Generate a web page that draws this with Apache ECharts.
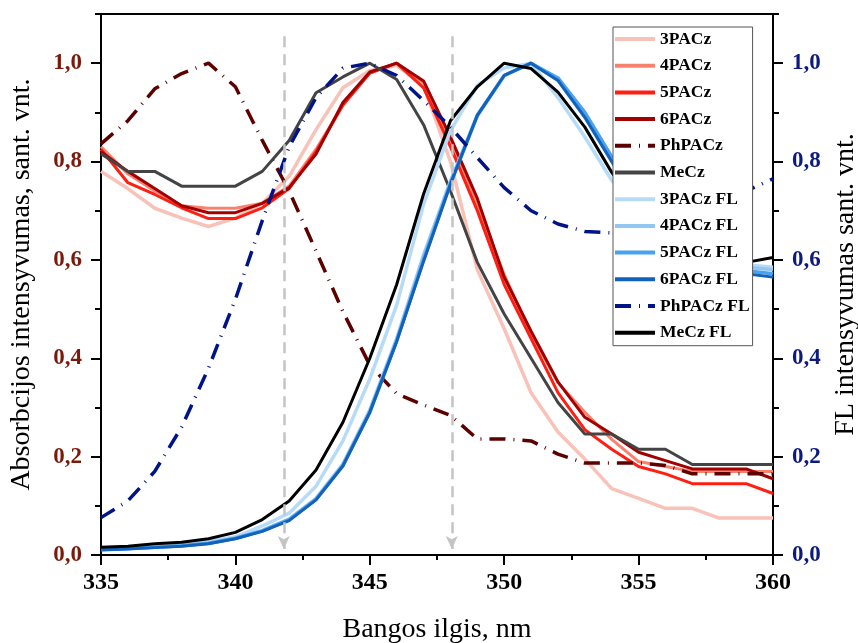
<!DOCTYPE html>
<html>
<head>
<meta charset="utf-8">
<script src="https://cdn.jsdelivr.net/npm/echarts@6/dist/echarts.min.js"></script>
<style>
  html, body { margin: 0; padding: 0; background: #fff; }
  #chart { width: 858px; height: 643px; }
</style>
</head>
<body>
<div id="chart"></div>
<script>
// Wavelength grid, nm
const wavelengths = [335,336,337,338,339,340,341,342,343,344,345,346,347,348,349,350,351,352,353,354,355,356,357,358,359,360];

// Absorption spectra (left axis)
const abs3PACz = [0.78,0.745,0.705,0.685,0.668,0.685,0.715,0.77,0.865,0.95,0.985,0.995,0.955,0.80,0.58,0.46,0.33,0.25,0.195,0.135,0.115,0.095,0.095,0.075,0.075,0.075];
const abs4PACz = [0.83,0.775,0.74,0.71,0.705,0.705,0.715,0.75,0.825,0.915,0.98,1.0,0.96,0.84,0.71,0.57,0.45,0.35,0.29,0.235,0.19,0.18,0.17,0.17,0.17,0.17];
const abs5PACz = [0.825,0.757,0.733,0.706,0.684,0.684,0.706,0.745,0.82,0.915,0.98,1.0,0.95,0.83,0.70,0.55,0.44,0.33,0.255,0.215,0.18,0.165,0.145,0.145,0.145,0.125];
const abs6PACz = [0.82,0.78,0.745,0.71,0.696,0.696,0.715,0.747,0.815,0.92,0.982,1.0,0.964,0.85,0.725,0.565,0.455,0.352,0.28,0.246,0.209,0.192,0.175,0.175,0.175,0.155];
const absPhPACz = [0.836,0.883,0.948,0.979,1.0,0.952,0.843,0.74,0.618,0.495,0.386,0.328,0.305,0.284,0.236,0.236,0.232,0.205,0.187,0.187,0.187,0.182,0.165,0.165,0.165,0.165];
const absMeCz = [0.816,0.78,0.78,0.75,0.75,0.75,0.78,0.843,0.94,0.972,1.0,0.967,0.875,0.74,0.595,0.49,0.40,0.31,0.246,0.246,0.215,0.215,0.184,0.184,0.184,0.184];

// Fluorescence spectra (right axis)
const fl3PACz = [0.012,0.014,0.018,0.021,0.027,0.037,0.059,0.085,0.14,0.232,0.358,0.508,0.713,0.863,0.955,0.99,1.0,0.93,0.85,0.762,0.70,0.65,0.62,0.60,0.59,0.585];
const fl4PACz = [0.011,0.013,0.016,0.019,0.024,0.034,0.05,0.073,0.115,0.185,0.295,0.44,0.61,0.76,0.895,0.975,1.0,0.965,0.89,0.80,0.72,0.66,0.62,0.595,0.585,0.58];
const fl5PACz = [0.011,0.013,0.016,0.019,0.024,0.034,0.049,0.072,0.113,0.182,0.29,0.435,0.60,0.755,0.893,0.975,1.0,0.97,0.90,0.81,0.72,0.66,0.615,0.59,0.578,0.572];
const fl6PACz = [0.01,0.012,0.015,0.018,0.023,0.033,0.048,0.07,0.112,0.181,0.29,0.434,0.597,0.754,0.894,0.975,1.0,0.965,0.89,0.80,0.71,0.65,0.61,0.585,0.572,0.565];
const flPhPACz = [0.076,0.11,0.17,0.26,0.38,0.52,0.68,0.83,0.93,0.99,1.0,0.975,0.924,0.87,0.808,0.747,0.70,0.673,0.658,0.655,0.65,0.66,0.68,0.71,0.74,0.765];
const flMeCz = [0.016,0.018,0.023,0.026,0.033,0.046,0.072,0.11,0.173,0.27,0.40,0.55,0.734,0.883,0.952,1.0,0.989,0.941,0.87,0.778,0.70,0.65,0.62,0.60,0.595,0.605];

// Excitation / emission markers (nm)
const markerWavelengths = [341.8, 348.05];

// Axis tick values
const yMajorTicks = [0, 0.2, 0.4, 0.6, 0.8, 1.0];
const yMinorTicks = [0.1, 0.3, 0.5, 0.7, 0.9, 1.1];

const FONT = '"Liberation Serif", "Times New Roman", serif';
const dashDot = [16, 8, 1, 8];

const seriesDefs = [
  { name: '3PACz', data: abs3PACz, axis: 0, color: '#f9c2b8', width: 3.5 },
  { name: '4PACz', data: abs4PACz, axis: 0, color: '#f8826f', width: 3 },
  { name: '5PACz', data: abs5PACz, axis: 0, color: '#ff1f12', width: 3 },
  { name: '6PACz', data: abs6PACz, axis: 0, color: '#a30000', width: 3 },
  { name: 'PhPACz', data: absPhPACz, axis: 0, color: '#5c0000', width: 3.5, type: dashDot },
  { name: 'MeCz', data: absMeCz, axis: 0, color: '#444444', width: 3 },
  { name: '3PACz FL', data: fl3PACz, axis: 1, color: '#b6dbf8', width: 3.5 },
  { name: '4PACz FL', data: fl4PACz, axis: 1, color: '#94c6f2', width: 3.5 },
  { name: '5PACz FL', data: fl5PACz, axis: 1, color: '#4aa2ef', width: 3.5 },
  { name: '6PACz FL', data: fl6PACz, axis: 1, color: '#1262bc', width: 3 },
  { name: 'PhPACz FL', data: flPhPACz, axis: 1, color: '#001488', width: 3.5, type: dashDot },
  { name: 'MeCz FL', data: flMeCz, axis: 1, color: '#000000', width: 3 }
];

const fmt = v => v.toFixed(1).replace('.', ',');

function yAxisMain(position, color, name, nameGap) {
  return {
    type: 'value', position: position, min: 0, max: 1.1, interval: 0.1,
    name: name, nameLocation: 'middle', nameGap: nameGap, nameRotate: 90,
    nameTextStyle: { fontFamily: FONT, fontSize: 28, color: '#000' },
    axisLine: { show: true, lineStyle: { color: '#000', width: 2 } },
    axisTick: { show: true, inside: false, length: 10, customValues: yMajorTicks, lineStyle: { color: '#000', width: 2 } },
    axisLabel: { show: true, customValues: yMajorTicks, formatter: fmt, margin: 19,
      fontFamily: FONT, fontSize: 23, fontWeight: 'bold', color: color },
    splitLine: { show: false }
  };
}
function yAxisMinor(position) {
  return {
    type: 'value', position: position, min: 0, max: 1.1, interval: 0.1,
    axisLine: { show: false },
    axisTick: { show: true, inside: false, length: 6, customValues: yMinorTicks, lineStyle: { color: '#000', width: 2 } },
    axisLabel: { show: false },
    splitLine: { show: false }
  };
}

const series = seriesDefs.map(d => ({
  name: d.name,
  type: 'line',
  yAxisIndex: d.axis,
  data: wavelengths.map((x, i) => [x, d.data[i]]),
  symbol: 'none',
  showSymbol: false,
  lineStyle: { color: d.color, width: d.width, type: d.type || 'solid' },
  itemStyle: { color: d.color },
  animation: false
}));

// Gray dashed arrows at the marker wavelengths
series.push({
  name: 'markers',
  type: 'line',
  yAxisIndex: 0,
  data: [],
  symbol: 'none',
  animation: false,
  markLine: {
    silent: true,
    animation: false,
    symbol: ['none', 'arrow'],
    symbolSize: [9, 13],
    label: { show: false },
    lineStyle: { color: '#c4c4c4', width: 2.5, type: [11, 7] },
    data: markerWavelengths.map(w => [{ coord: [w, 1.055] }, { coord: [w, 0.012] }])
  }
});

const chart = echarts.init(document.getElementById('chart'), null, { renderer: 'canvas' });
chart.setOption({
  animation: false,
  backgroundColor: '#fff',
  grid: { left: 101, right: 85, top: 14, bottom: 88, outerBoundsMode: 'none', containLabel: false,
    show: true, borderColor: '#000', borderWidth: 2, backgroundColor: 'transparent' },
  legend: {
    data: seriesDefs.map(d => d.name),
    orient: 'vertical',
    left: 613, top: 27,
    padding: [3, 3, 4, 0],
    itemWidth: 40, itemHeight: 12, itemGap: 8.7,
    itemStyle: { opacity: 0 },
    lineStyle: { width: 4 },
    backgroundColor: '#fff',
    borderColor: '#555', borderWidth: 1,
    selectedMode: false,
    textStyle: { fontFamily: FONT, fontSize: 17.5, lineHeight: 14, fontWeight: 'bold', color: '#000' }
  },
  xAxis: {
    type: 'value', min: 335, max: 360, interval: 5,
    name: 'Bangos ilgis, nm', nameLocation: 'middle', nameGap: 61,
    nameTextStyle: { fontFamily: FONT, fontSize: 28, color: '#000' },
    axisLine: { show: true, lineStyle: { color: '#000', width: 2 } },
    axisTick: { show: true, inside: false, length: 10, lineStyle: { color: '#000', width: 2 } },
    minorTick: { show: true, splitNumber: 2, length: 5, lineStyle: { color: '#000', width: 2 } },
    axisLabel: { margin: 16, fontFamily: FONT, fontSize: 24, fontWeight: 'bold', color: '#000' },
    splitLine: { show: false }
  },
  yAxis: [
    yAxisMain('left', '#7a1a0c', 'Absorbcijos intensyvumas, sant. vnt.', 65),
    yAxisMain('right', '#0d1b7e', 'FL intensyvumas sant. vnt.', 56),
    yAxisMinor('left'),
    yAxisMinor('right')
  ],
  series: series
});
</script>
</body>
</html>
